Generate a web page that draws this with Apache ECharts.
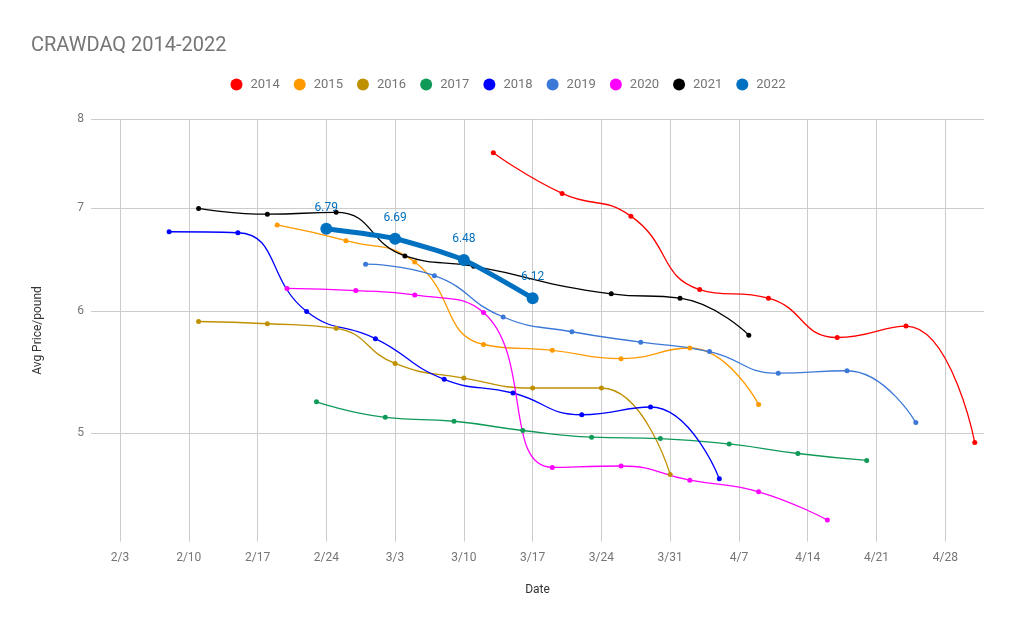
<!DOCTYPE html>
<html>
<head>
<meta charset="utf-8">
<title>CRAWDAQ 2014-2022</title>
<script src="https://cdn.jsdelivr.net/npm/echarts@6/dist/echarts.min.js"></script>
<style>
  html, body { margin: 0; padding: 0; background: #fff; }
  #chart { width: 1016px; height: 628px; }
</style>
</head>
<body>
<div id="chart"></div>
<script>
// weekly ticks on the date axis
const tickLabels = ['2/3', '2/10', '2/17', '2/24', '3/3', '3/10', '3/17', '3/24', '3/31', '4/7', '4/14', '4/21', '4/28'];
const priceTicks = [5, 6, 7, 8];

const years = ['2014', '2015', '2016', '2017', '2018', '2019', '2020', '2021', '2022'];
const colors = ['#ff0000', '#ff9900', '#bf9000', '#109a58', '#0000ff', '#3c78d8', '#ff00ff', '#000000', '#0070c0'];

const dates2014 = ['3/13', '3/20', '3/27', '4/3', '4/10', '4/17', '4/24', '5/1'];
const prices2014 = [7.61, 7.16, 6.92, 6.20, 6.12, 5.77, 5.87, 4.93];
const dates2015 = ['2/19', '2/26', '3/5', '3/12', '3/19', '3/26', '4/2', '4/9'];
const prices2015 = [6.83, 6.67, 6.46, 5.71, 5.66, 5.59, 5.68, 5.22];
const dates2016 = ['2/11', '2/18', '2/25', '3/3', '3/10', '3/17', '3/24', '3/31'];
const prices2016 = [5.91, 5.89, 5.85, 5.55, 5.43, 5.35, 5.35, 4.70];
const dates2017 = ['2/23', '3/2', '3/9', '3/16', '3/23', '3/30', '4/6', '4/13', '4/20'];
const prices2017 = [5.24, 5.12, 5.09, 5.02, 4.97, 4.96, 4.92, 4.85, 4.80];
const dates2018 = ['2/8', '2/15', '2/22', '3/1', '3/8', '3/15', '3/22', '3/29', '4/5'];
const prices2018 = [6.76, 6.75, 6.00, 5.76, 5.42, 5.31, 5.14, 5.20, 4.67];
const dates2019 = ['2/28', '3/7', '3/14', '3/21', '3/28', '4/4', '4/11', '4/18', '4/25'];
const prices2019 = [6.44, 6.33, 5.95, 5.82, 5.73, 5.65, 5.47, 5.49, 5.08];
const dates2020 = ['2/20', '2/27', '3/5', '3/12', '3/19', '3/26', '4/2', '4/9', '4/16'];
const prices2020 = [6.21, 6.19, 6.15, 5.99, 4.75, 4.76, 4.66, 4.58, 4.39];
const dates2021 = ['2/11', '2/18', '2/25', '3/4', '3/11', '3/25', '4/1', '4/8'];
const prices2021 = [7.00, 6.94, 6.96, 6.52, 6.42, 6.16, 6.12, 5.79];
const dates2022 = ['2/24', '3/3', '3/10', '3/17'];
const prices2022 = [6.79, 6.69, 6.48, 6.12];

const allDates = [dates2014, dates2015, dates2016, dates2017, dates2018, dates2019, dates2020, dates2021, dates2022];
const allPrices = [prices2014, prices2015, prices2016, prices2017, prices2018, prices2019, prices2020, prices2021, prices2022];

// month/day -> day of year (all seasons laid on one calendar)
function dayOf(md) {
    const p = md.split('/').map(Number);
    return (Date.UTC(2021, p[0] - 1, p[1]) - Date.UTC(2021, 0, 0)) / 864e5;
}
function mdOf(day) {
    const d = new Date(Date.UTC(2021, 0, 0) + day * 864e5);
    return (d.getUTCMonth() + 1) + '/' + d.getUTCDate();
}

const tickDays = tickLabels.map(dayOf);
const axisGray = '#757575';

const series = years.map((y, i) => {
    const last = i === years.length - 1;
    return {
        name: y,
        type: 'line',
        smooth: last ? 0.2 : 0.5,
        data: allDates[i].map((d, k) => [dayOf(d), allPrices[i][k]]),
        symbol: 'circle',
        symbolSize: last ? 12 : 5,
        lineStyle: { width: last ? 5 : 1.3, color: colors[i] },
        itemStyle: { color: colors[i] },
        label: last ? {
            show: true,
            position: 'top',
            distance: 9,
            color: colors[i],
            fontFamily: 'Roboto',
            fontSize: 12,
            formatter: p => p.value[1].toFixed(2)
        } : { show: false },
        z: last ? 5 : 2
    };
});

const chart = echarts.init(document.getElementById('chart'), null, { renderer: 'canvas' });
chart.setOption({
    animation: false,
    color: colors,
    textStyle: { fontFamily: 'Roboto' },
    title: {
        text: 'CRAWDAQ 2014-2022',
        left: 26,
        top: 31,
        textStyle: { fontFamily: 'Roboto', fontSize: 20, fontWeight: 'normal', color: axisGray }
    },
    legend: {
        left: 'center',
        top: 73,
        icon: 'circle',
        itemWidth: 18,
        itemHeight: 12,
        itemGap: 14,
        textStyle: { fontFamily: 'Roboto', fontSize: 13, color: axisGray },
        data: years
    },
    grid: { left: 91, right: 32, top: 119.3, bottom: 86.3 },
    xAxis: {
        type: 'value',
        min: dayOf('2/3') - 2.95,
        max: dayOf('4/28') + 3.94,
        name: 'Date',
        nameLocation: 'middle',
        nameGap: 42,
        nameTextStyle: { fontFamily: 'Roboto', fontSize: 12, color: '#333' },
        axisLine: { show: false },
        axisTick: { show: false, customValues: tickDays },
        axisLabel: {
            customValues: tickDays,
            formatter: v => mdOf(v),
            fontFamily: 'Roboto',
            fontSize: 12,
            color: axisGray,
            margin: 10
        },
        splitLine: { show: true, lineStyle: { color: '#cccccc', width: 1 } }
    },
    yAxis: {
        type: 'log',
        logBase: 10,
        min: 4.25,
        max: 8,
        name: 'Avg Price/pound',
        nameLocation: 'middle',
        nameGap: 47,
        nameTextStyle: { fontFamily: 'Roboto', fontSize: 12, color: '#333' },
        axisLine: { show: false },
        axisTick: { show: false, customValues: priceTicks },
        axisLabel: {
            customValues: priceTicks,
            fontFamily: 'Roboto',
            fontSize: 12,
            color: axisGray,
            margin: 7
        },
        splitLine: { show: true, lineStyle: { color: '#cccccc', width: 1 } }
    },
    series: series
});
</script>
</body>
</html>
